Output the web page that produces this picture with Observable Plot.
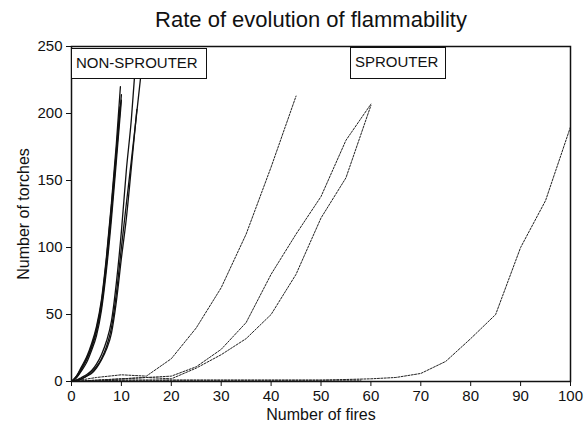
<!DOCTYPE html>
<html><head><meta charset="utf-8">
<script src="https://cdn.jsdelivr.net/npm/d3@7"></script>
<script src="https://cdn.jsdelivr.net/npm/@observablehq/plot@0.6"></script>
<style>
body{margin:0;background:#fff;font-family:"Liberation Sans",Arial,Helvetica,sans-serif;}
#wrap{position:relative;width:586px;height:423px;}
#title{position:absolute;left:0;top:7px;width:622px;text-align:center;font-size:22px;line-height:26px;color:#111;z-index:2;}
.tag{position:absolute;border:1.5px solid #111;background:#fff;font-size:15px;line-height:27px;padding-left:4px;box-sizing:border-box;color:#111;z-index:2;white-space:nowrap;}
#tagN{left:71px;top:48px;width:136px;height:31px;}
#tagS{left:350px;top:47px;width:96px;height:32px;}
g[aria-label="x-axis label"], g[aria-label="y-axis label"]{font-size:16px;}
</style></head>
<body>
<div id="wrap">
  <div id="title">Rate of evolution of flammability</div>
  <div class="tag" id="tagN">NON-SPROUTER</div>
  <div class="tag" id="tagS">SPROUTER</div>
</div>
<script>
// Tick labels
const xTicks = [0,10,20,30,40,50,60,70,80,90,100];
const yTicks = [0,50,100,150,200,250];

// Non-sprouter runs: [number of fires, number of torches]
const nonSprouterA = [[0,0],[1,4],[2,11],[3,18],[4,28],[5,41],[6,61],[7,93],[8,133],[9,178],[9.8,220]];
const nonSprouterB = [[0,0],[1,3],[2,9],[3,16],[4,25],[5,37],[6,56],[7,87],[8,126],[9,170],[10,214]];
const nonSprouterC = [[0,0],[1,3],[2,8],[3,14],[4,23],[5,34],[6,53],[7,83],[8,121],[9,165],[10,210]];
const nonSprouterD = [[0,0],[1,4],[2,10],[3,17],[4,26],[5,39],[6,59],[7,91],[8,131],[9,173],[9.7,205]];
const nonSprouterE = [[0,0],[1,1],[2,3],[3,5],[4,8],[5,13],[6,20],[7,30],[8,45],[9,74],[10,112],[11,158],[12,196],[12.6,226],[13,245]];
const nonSprouterF = [[0,0],[1,1],[2,2],[3,4],[4,7],[5,11],[6,17],[7,26],[8,40],[9,66],[10,100],[11,133],[12,165],[13,198],[14,232]];
const nonSprouterG = [[0,0],[1,1],[2,2],[3,4],[4,6],[5,10],[6,16],[7,24],[8,36],[9,60],[10,92],[11,122],[12,160],[13.1,203]];

// Sprouter runs
const sprouterA = [[0,0],[5,3],[10,5],[15,4],[20,17],[25,40],[30,70],[35,110],[40,160],[45,213]];
const sprouterB = [[0,0],[5,1],[10,2],[15,3],[20,4],[25,11],[30,24],[35,44],[40,80],[45,110],[50,138],[55,180],[60,207]];
const sprouterC = [[0,0],[5,1],[10,2],[15,3],[20,2],[25,10],[30,20],[35,32],[40,50],[45,80],[50,122],[55,152],[60,206]];
const sprouterD = [[0,0],[10,1],[20,1],[30,1],[40,1],[50,1],[60,2],[65,3],[70,6],[75,15],[80,32],[85,50],[90,100],[95,135],[100,190]];
const sprouterE = [[0,0],[10,1],[20,1],[30,1],[40,1],[50,1],[58,1]];

const nonSprouters = [nonSprouterA,nonSprouterB,nonSprouterC,nonSprouterD,nonSprouterE,nonSprouterF,nonSprouterG];
const sprouters = [sprouterA,sprouterB,sprouterC,sprouterD,sprouterE];

const toRows = (runs, kind) => runs.flatMap((run, i) => run.map(([fires, torches]) => ({fires, torches, run: kind + i})));
const nsRows = toRows(nonSprouters, "N");
const spRows = toRows(sprouters, "S");

const chart = Plot.plot({
  width: 586,
  height: 423,
  marginTop: 46,
  marginBottom: 42,
  marginLeft: 71,
  marginRight: 16,
  style: {fontSize: "15px", fontFamily: "'Liberation Sans', Arial, Helvetica, sans-serif", color: "#111", background: "white"},
  x: {domain: [0, 100]},
  y: {domain: [0, 250]},
  marks: [
    Plot.line(spRows, {x: "fires", y: "torches", z: "run", stroke: "#222", strokeWidth: 1, strokeDasharray: "2,1.4", clip: true}),
    Plot.line(nsRows, {x: "fires", y: "torches", z: "run", stroke: "#111", strokeWidth: 1.3, curve: "monotone-x", clip: true}),
    Plot.frame({stroke: "#111", strokeWidth: 1.5}),
    Plot.axisX({ticks: xTicks, tickSize: 5, tickPadding: 4, label: "Number of fires", labelAnchor: "center", labelArrow: "none", labelOffset: 38}),
    Plot.axisY({ticks: yTicks, tickSize: 5, tickPadding: 4, label: "Number of torches", labelAnchor: "center", labelArrow: "none", labelOffset: 54})
  ]
});
document.getElementById("wrap").prepend(chart);
chart.style.position = "absolute";
chart.style.left = "0";
chart.style.top = "0";
</script>
</body></html>
